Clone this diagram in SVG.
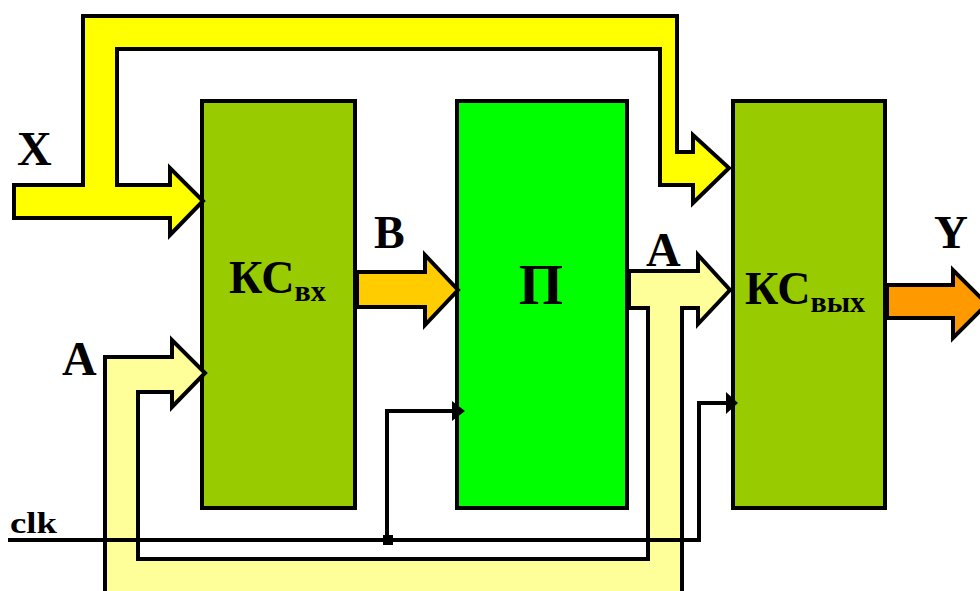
<svg xmlns="http://www.w3.org/2000/svg" width="980" height="591" viewBox="0 0 980 591">
<style>
.blk{stroke:#000;stroke-width:4;stroke-linejoin:miter}
.bus{stroke:#000;stroke-width:4;stroke-linejoin:miter}
.wire{fill:none;stroke:#000;stroke-width:4;stroke-linejoin:miter}
.lbl{font-family:"Liberation Serif","Times New Roman",serif;font-weight:bold;fill:#000}
</style>
<rect width="980" height="591" fill="#fff"/>
<g id="nodes">
<g id="ks_in">
<rect class="blk" x="202" y="101" width="153" height="407" fill="#99CC00"/>
<text class="lbl" x="229" y="293" font-size="46">КС<tspan font-size="30" dy="8">вх</tspan></text>
</g>
<g id="p">
<rect class="blk" x="457" y="101" width="170" height="407" fill="#00FF00"/>
<text class="lbl" x="541" y="304" font-size="57" text-anchor="middle">П</text>
</g>
<g id="ks_out">
<rect class="blk" x="733" y="101" width="152" height="407" fill="#99CC00"/>
<text class="lbl" x="745" y="304" font-size="46">КС<tspan font-size="30" dy="8">вых</tspan></text>
</g>
</g>
<g id="connectors">
<polygon id="bus_x" class="bus" fill="#FFFF00" points="14,185 83,185 83,16 677,16 677,152 693,152 693,135 729,168 693,203 693,185 660,185 660,49 117,49 117,185 170,185 170,168 203,201 170,235 170,218 14,218"/>
<polygon id="bus_b" class="bus" fill="#FFCC00" points="357,272 425,272 425,255 458,290 425,325 425,307 357,307"/>
<polygon id="bus_a" class="bus" fill="#FFFF99" points="629,271 698,271 698,255 730,290 698,324 698,308 682,308 682,596 105,596 105,357 172,357 172,340 205,373 172,407 172,392 138,392 138,559 648,559 648,308 629,308"/>
<polygon id="bus_y" class="bus" fill="#FF9900" points="887,285 953,285 953,270 987,304 953,338 953,318 887,318"/>
<g id="clk">
<polyline class="wire" points="8,540 699,540 699,403 728,403"/>
<polyline class="wire" points="387,540 387,411 454,411"/>
<polygon fill="#000" points="452,401 465,411 452,421"/>
<polygon fill="#000" points="726,392 738,403 726,414"/>
<rect x="383" y="535" width="10" height="10" fill="#000"/>
</g>
</g>
<g id="labels">
<text class="lbl" x="17" y="165" font-size="48">X</text>
<text class="lbl" x="62" y="375" font-size="48">A</text>
<text class="lbl" x="646" y="266" font-size="48">A</text>
<text class="lbl" x="374" y="248" font-size="46">B</text>
<text class="lbl" x="934" y="248" font-size="47">Y</text>
<text class="lbl" x="10" y="533" font-size="30" textLength="47" lengthAdjust="spacingAndGlyphs">clk</text>
</g>
</svg>
